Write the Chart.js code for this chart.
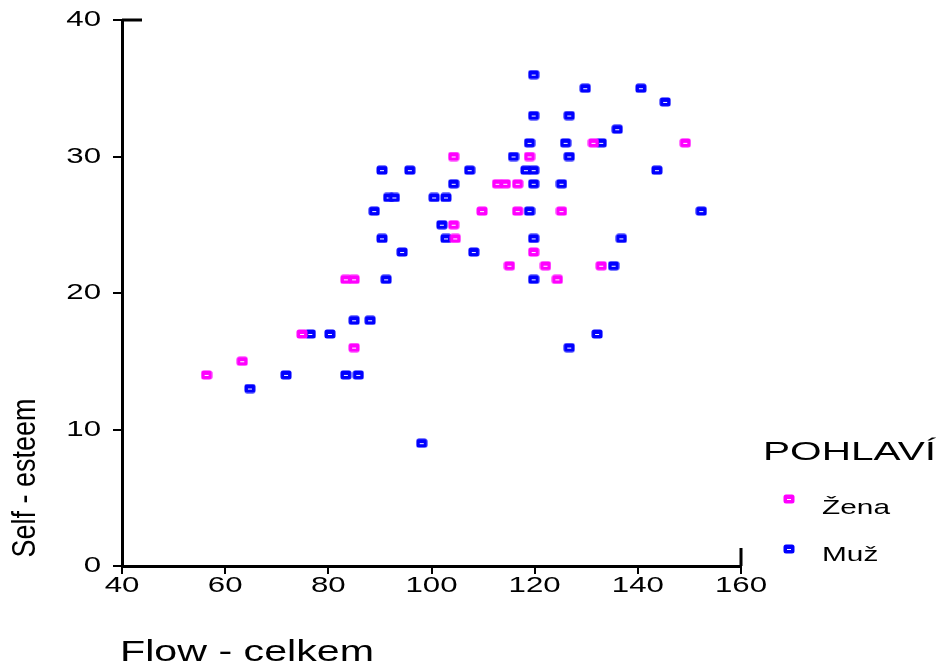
<!DOCTYPE html>
<html>
<head>
<meta charset="utf-8">
<script src="https://cdn.jsdelivr.net/npm/chart.js@4.4.1/dist/chart.umd.min.js"></script>
<style>
  html, body { margin: 0; padding: 0; background: #ffffff; }
  #wrap { width: 939px; height: 663px; position: relative; }
</style>
</head>
<body>
<div id="wrap"><canvas id="chart" width="939" height="663"></canvas></div>
<script>
// Axis ticks
const xTicks = [40, 60, 80, 100, 120, 140, 160];
const yTicks = [0, 10, 20, 30, 40];

// Titles
const xTitle = 'Flow - celkem';
const yTitle = 'Self - esteem';
const legendTitle = 'POHLAVÍ';
const seriesNames = ['Žena', 'Muž'];

// Žena: flow total vs. self-esteem
const zenaFlow   = [56.4, 63.3, 74.9, 83.4, 85.0, 85.0, 104.3, 104.3, 104.6, 109.8, 112.8, 114.3,
                    116.7, 115.1, 116.7, 119.0, 119.8, 122.1, 124.4, 125.2, 131.4, 132.9, 149.2];
const zenaEsteem = [14, 15, 17, 21, 21, 16, 30, 25, 24, 26, 28, 28,
                    28, 22, 26, 30, 23, 22, 21, 26, 31, 22, 31];

// Muž: flow total vs. self-esteem
const muzFlow   = [64.8, 71.8, 76.5, 80.3, 83.4, 85.8, 85.0, 88.1, 91.2, 88.9, 90.4, 90.4,
                   91.7, 92.8, 94.3, 95.8, 98.1, 100.5, 102.0, 102.8, 102.8, 104.3, 107.4, 108.2,
                   115.9, 118.3, 119.8, 119.0, 119.0, 119.8, 119.8, 119.8, 119.8, 119.8, 125.2, 126.0,
                   126.7, 126.7, 126.7, 129.8, 132.1, 132.9, 135.3, 136.0, 136.8, 140.6, 143.7, 145.3, 152.3];
const muzEsteem = [13, 14, 17, 17, 14, 14, 18, 18, 21, 26, 24, 29,
                   27, 27, 23, 29, 9, 27, 25, 27, 24, 28, 29, 23,
                   30, 29, 29, 26, 31, 28, 24, 21, 33, 36, 28, 31,
                   33, 30, 16, 35, 17, 31, 22, 32, 24, 35, 29, 34, 26];

const seriesColors = ['#ff00ff', '#0000ff'];
const FONT = "'Liberation Sans', Arial, Helvetica, sans-serif";
const STRETCH = 1.42;

// Small rounded-square marker with a white dash in the middle
function makeMarker(color) {
  const c = document.createElement('canvas');
  c.width = 12; c.height = 10;
  const g = c.getContext('2d');
  g.fillStyle = color;
  g.beginPath();
  g.roundRect(0.5, 0.5, 11, 9, 2.5);
  g.fill();
  g.fillStyle = '#ffffff';
  g.fillRect(4, 5, 4, 1);
  return c;
}
const markers = seriesColors.map(makeMarker);

function toPoints(xs, ys) { return xs.map((x, i) => ({ x: x, y: ys[i] })); }

// Horizontally widened text
function wideText(ctx, text, x, y, size, sx, align, baseline) {
  ctx.save();
  ctx.font = size + 'px ' + FONT;
  ctx.fillStyle = '#000';
  ctx.textAlign = align || 'left';
  ctx.textBaseline = baseline || 'alphabetic';
  ctx.translate(x, y);
  ctx.scale(sx, 1);
  ctx.fillText(text, 0, 0);
  ctx.restore();
}

const decorations = {
  id: 'decorations',
  afterDraw(chart) {
    const ctx = chart.ctx;
    const xs = chart.scales.x, ys = chart.scales.y;
    const area = chart.chartArea;

    // short end stubs at the top-left and bottom-right corners
    ctx.save();
    ctx.strokeStyle = '#000';
    ctx.lineWidth = 3;
    ctx.beginPath();
    ctx.moveTo(area.left, area.top);
    ctx.lineTo(area.left + 20, area.top);
    ctx.moveTo(area.right, area.bottom);
    ctx.lineTo(area.right, area.bottom - 18);
    ctx.stroke();
    ctx.restore();

    // tick labels
    xs.ticks.forEach(t => {
      wideText(ctx, String(t.value), xs.getPixelForValue(t.value), 586, 22, STRETCH, 'center', 'middle');
    });
    ys.ticks.forEach(t => {
      wideText(ctx, String(t.value), 101, ys.getPixelForValue(t.value), 22, STRETCH, 'right', 'middle');
    });

    // axis titles
    wideText(ctx, xTitle, area.left - 2, 661, 29, STRETCH, 'left', 'alphabetic');
    ctx.save();
    ctx.font = '27px ' + FONT;
    ctx.fillStyle = '#000';
    ctx.textAlign = 'center';
    ctx.textBaseline = 'alphabetic';
    ctx.translate(35, 478);
    ctx.rotate(-Math.PI / 2);
    ctx.scale(1, 1.2);
    ctx.fillText(yTitle, 0, 0);
    ctx.restore();

    // legend
    ctx.save();
    ctx.font = '25px ' + FONT;
    const natural = ctx.measureText(legendTitle).width;
    ctx.restore();
    wideText(ctx, legendTitle, 763, 460, 25, 173 / natural, 'left', 'alphabetic');
    const rows = [{ my: 499, ty: 514 }, { my: 549, ty: 561 }];
    chart.data.datasets.forEach((ds, i) => {
      const m = markers[i];
      ctx.drawImage(m, Math.round(789 - m.width / 2), Math.round(rows[i].my - m.height / 2));
      wideText(ctx, ds.label, 822, rows[i].ty, 21, 1.42, 'left', 'alphabetic');
    });
  }
};

new Chart(document.getElementById('chart'), {
  type: 'scatter',
  data: {
    datasets: [
      { label: seriesNames[0], data: toPoints(zenaFlow, zenaEsteem),
        pointStyle: markers[0], backgroundColor: seriesColors[0], borderColor: seriesColors[0] },
      { label: seriesNames[1], data: toPoints(muzFlow, muzEsteem),
        pointStyle: markers[1], backgroundColor: seriesColors[1], borderColor: seriesColors[1] }
    ]
  },
  options: {
    responsive: false,
    animation: false,
    devicePixelRatio: 1,
    layout: { padding: { left: 0, top: 20, right: 198, bottom: 0 } },
    plugins: { legend: { display: false }, tooltip: { enabled: false } },
    elements: { point: { radius: 5, hoverRadius: 5 } },
    scales: {
      x: {
        type: 'linear', min: 40, max: 160,
        afterBuildTicks: s => { s.ticks = xTicks.map(v => ({ value: v })); },
        afterFit: s => { s.height = 97; },
        ticks: { display: false },
        grid: { display: true, drawOnChartArea: false, drawTicks: true, tickLength: 8, color: '#000', lineWidth: 2 },
        border: { display: true, color: '#000', width: 3 }
      },
      y: {
        type: 'linear', min: 0, max: 40,
        afterBuildTicks: s => { s.ticks = yTicks.map(v => ({ value: v })); },
        afterFit: s => { s.width = 122; },
        ticks: { display: false },
        grid: { display: true, drawOnChartArea: false, drawTicks: true, tickLength: 9, color: '#000', lineWidth: 2 },
        border: { display: true, color: '#000', width: 3 }
      }
    }
  },
  plugins: [decorations]
});
</script>
</body>
</html>
